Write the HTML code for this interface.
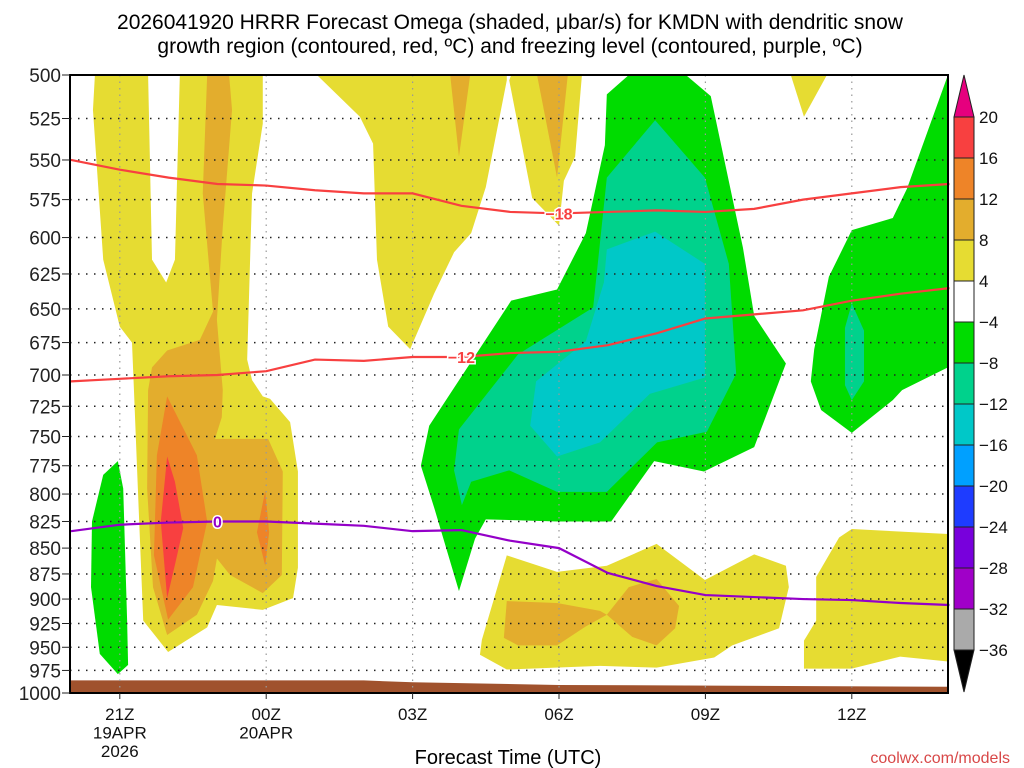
<!DOCTYPE html>
<html><head><meta charset="utf-8"><style>
body{margin:0;background:#fff;}
svg{display:block;font-family:"Liberation Sans",sans-serif;}
</style></head><body>
<svg id="chart" width="1024" height="768" xmlns="http://www.w3.org/2000/svg">
<g id="shade"></g>
<g id="ground"></g>
<g id="grid"></g>
<g id="lines"></g>
<g id="axes"></g>
<g id="cbar"></g>
<text x="510" y="29" text-anchor="middle" font-size="21">2026041920 HRRR Forecast Omega (shaded, μbar/s) for KMDN with dendritic snow</text>
<text x="510" y="53" text-anchor="middle" font-size="21">growth region (contoured, red, ºC) and freezing level (contoured, purple, ºC)</text>
<text x="508" y="764" text-anchor="middle" font-size="20">Forecast Time (UTC)</text>
<text x="1010" y="763" text-anchor="end" font-size="16" fill="#d84848">coolwx.com/models</text>
</svg>
<script>
// hours since 20Z 19 Apr; pressure hPa
const pLevels=[500,525,550,575,600,625,650,675,700,725,750,775,800,825,850,875,900,925,950,975,1000];
const xTickHours=[1,4,7,10,13,16];
const xTickLabels=[["21Z","19APR","2026"],["00Z","20APR"],["03Z"],["06Z"],["09Z"],["12Z"]];
const cbarLevels=[20,16,12,8,4,-4,-8,-12,-16,-20,-24,-28,-32,-36];
const cbarColors=["#f84040","#ee8428","#e3ad2d","#e6dc32","#ffffff","#00dc00","#00d28c","#00c8c8","#00a0ff","#1e3cff","#7800dc","#a000c8","#aaaaaa"];
const hours=[0,1,2,3,4,5,6,7,8,9,10,11,12,13,14,15,16,17,18];
const dgzTop=[550,556,561,565,566,569,571,571,579,583,584,583,582,583,581,575,571,567,565];
const dgzBottom=[705,703,701,700,697,688,689,686,686,683,682,677,668,657,654,651,644,639,635];
const freezing=[834,828,826,825,825,827,829,834,833,843,850,874,887,896,898,900,901,904,906];
const groundHours=[0,6,7,10,18];
const groundP=[986,986,988,991,993];
const shapes=[
 {v:4,c:"#e6dc32",pts:[[0.49,500],[3.93,500],[3.93,528],[3.71,571],[3.61,688],[3.71,704],[3.93,717],[4.08,719],[4.49,738],[4.65,780],[4.65,869],[4.55,899],[3.93,911],[2.99,906],[2.79,929],[1.99,955],[1.48,922],[1.37,795],[1.29,712],[1.25,675],[1.0,663],[0.66,615],[0.45,520]]},
 {v:0,c:"#ffffff",pts:[[1.58,500],[1.66,615],[1.95,631],[2.13,615],[2.23,500]]},
 {v:8,c:"#e3ad2d",pts:[[2.79,500],[3.24,500],[3.30,520],[3.11,593],[2.99,658],[3.11,712],[3.09,734],[2.95,752],[4.04,752],[4.34,780],[4.32,876],[3.93,894],[3.26,876],[2.99,860],[2.91,882],[2.58,916],[1.97,937],[1.68,888],[1.56,795],[1.58,712],[1.66,694],[1.97,681],[2.64,673],[2.91,652],[2.70,571]]},
 {v:12,c:"#ee8428",pts:[[1.97,717],[1.76,766],[1.70,857],[1.99,921],[2.50,888],[2.79,825],[2.58,766]]},
 {v:12,c:"#ee8428",pts:[[3.98,797],[3.81,835],[3.98,867],[4.06,835]]},
 {v:16,c:"#f84040",pts:[[1.97,767],[1.84,825],[1.97,899],[2.13,866],[2.30,831],[2.13,789]]},
 {v:-4,c:"#00dc00",pts:[[0.96,771],[0.66,783],[0.43,825],[0.41,888],[0.59,957],[0.96,979],[1.17,969],[1.15,922],[1.07,795]]},
 {v:4,c:"#e6dc32",pts:[[5.04,500],[8.93,500],[8.93,503],[8.50,567],[8.20,597],[7.85,610],[7.44,639],[6.95,680],[6.50,663],[6.27,615],[6.19,540],[5.92,524]]},
 {v:4,c:"#e6dc32",pts:[[9.02,500],[10.47,500],[10.33,548],[10.10,563],[10.0,592],[9.45,574],[8.98,503]]},
 {v:8,c:"#e3ad2d",pts:[[7.77,500],[8.18,500],[7.95,548]]},
 {v:8,c:"#e3ad2d",pts:[[9.55,500],[10.18,500],[9.96,561]]},
 {v:-4,c:"#00dc00",pts:[[11.43,500],[12.6,500],[13.11,512],[13.77,607],[14.0,655],[14.65,691],[14.0,759],[12.97,780],[11.95,771],[11.07,825],[9.96,825],[8.50,823],[8.28,841],[7.95,892],[7.44,812],[7.17,775],[7.34,741],[9.02,644],[9.96,636],[10.55,597],[10.94,541],[10.98,511]]},
 {v:-8,c:"#00d28c",pts:[[11.97,526],[12.99,561],[13.48,618],[13.63,699],[13.03,746],[12.01,755],[10.98,798],[9.96,798],[8.98,779],[8.20,789],[8.01,810],[7.85,779],[7.95,744],[9.16,684],[10.70,649],[10.98,561]]},
 {v:-12,c:"#00c8c8",pts:[[11.97,596],[12.99,618],[12.99,702],[11.86,715],[10.84,755],[9.96,767],[9.41,741],[9.53,705],[10.55,674],[10.92,631],[10.98,608]]},
 {v:-4,c:"#00dc00",pts:[[17.97,500],[18.1,500],[18.1,694],[17.97,694],[17.03,712],[16.84,720],[16.0,747],[15.37,728],[15.16,705],[15.23,680],[15.53,627],[16.0,595],[16.84,587],[17.13,568]]},
 {v:-8,c:"#00d28c",pts:[[16.0,646],[16.25,666],[16.25,705],[16.0,720],[15.86,708],[15.86,664]]},
 {v:4,c:"#e6dc32",pts:[[14.75,500],[15.49,500],[15.02,524]]},
 {v:4,c:"#e6dc32",pts:[[8.93,857],[9.96,873],[10.98,867],[12.0,846],[12.99,881],[14.0,856],[14.65,867],[14.71,888],[14.51,930],[13.55,948],[13.18,961],[12.0,972],[10.84,970],[8.93,974],[8.38,958],[8.42,942]]},
 {v:8,c:"#e3ad2d",pts:[[8.93,902],[9.96,904],[10.84,912],[10.98,916],[11.43,888],[12.0,880],[12.46,907],[12.38,930],[12.0,948],[11.5,939],[10.98,916],[10.55,928],[9.96,948],[9.16,948],[8.87,940]]},
 {v:4,c:"#e6dc32",pts:[[15.74,840],[16.0,832],[18.1,837],[18.1,966],[16.99,960],[16.0,973],[15.02,973],[15.02,943],[15.27,922],[15.27,878]]}
];
const L=70,R=948,T=75,B=693;
const X=h=>71+48.8*h;
const Y=p=>75+618*Math.log2(p/500);
const NS="http://www.w3.org/2000/svg";
function mk(tag,attrs,parent){const e=document.createElementNS(NS,tag);for(const k in attrs)e.setAttribute(k,attrs[k]);parent.appendChild(e);return e;}
const cl=v=>Math.max(L,Math.min(R,v));
const shade=document.getElementById('shade');
const clip=mk('clipPath',{id:'pc'},document.getElementById('chart'));
mk('rect',{x:L,y:T,width:R-L,height:B-T},clip);
shade.setAttribute('clip-path','url(#pc)');
shapes.forEach((s,i)=>{
 const pg=mk('polygon',{points:s.pts.map(q=>X(q[0])+','+Y(q[1])).join(' '),fill:s.c},shade);
 
 
});
// ground
const gr=document.getElementById('ground');
let gp=groundHours.map((h,i)=>cl(X(h))+','+Y(groundP[i]));
gp.push(R+','+B,L+','+B);
const gpoly=mk('polygon',{points:gp.join(' '),fill:'#a0522d'},gr);


// grid
const grid=document.getElementById('grid');
pLevels.forEach(p=>{
 const ln=mk('line',{x1:L,x2:R,y1:Y(p),y2:Y(p),stroke:'#222','stroke-width':1.5,'stroke-dasharray':'1.5 6.5'},grid);
 
 
});
xTickHours.forEach(h=>{
 const ln=mk('line',{x1:X(h),x2:X(h),y1:T,y2:B,stroke:'#999','stroke-width':1.2,'stroke-dasharray':'1.5 5'},grid);
 
 
});
// lines
const lg=document.getElementById('lines');
function line(arr,col,name){
 const pl=mk('polyline',{points:hours.map((h,i)=>X(h)+','+Y(arr[i])).join(' '),fill:'none',stroke:col,'stroke-width':2.2},lg);
 
 
}
line(dgzTop,'#f84040','dgz-minus18-line');
line(dgzBottom,'#f84040','dgz-minus12-line');
line(freezing,'#9400c8','freezing-level-line');
function lab(txt,h,arr,col,name){
 const x=X(h),y=Y(arr[Math.round(h)]);
 const r=mk('rect',{x:x-14,y:y-8,width:28,height:16,fill:'none'},lg);
 const t=mk('text',{x:x,y:y+6,'text-anchor':'middle','font-size':16,'font-weight':'bold',fill:col,stroke:'#fff','stroke-width':3,'paint-order':'stroke'},lg);
 t.textContent=txt;
 
 
}
lab('−18',10,dgzTop,'#f84040','label-minus18');
lab('−12',8,dgzBottom,'#f84040','label-minus12');
lab('0',3,freezing,'#9400c8','label-freezing-0');
// axes
const ax=document.getElementById('axes');
mk('rect',{x:L,y:T,width:R-L,height:B-T,fill:'none',stroke:'#000','stroke-width':2},ax);
pLevels.forEach(p=>{
 const t=mk('text',{x:61,y:Y(p)+7,'text-anchor':'end','font-size':19,fill:'#222'},ax);
 t.textContent=p;
 
 
 mk('line',{x1:62,x2:L,y1:Y(p),y2:Y(p),stroke:'#222','stroke-width':1},ax);
});
xTickHours.forEach((h,i)=>{
 mk('line',{x1:X(h),x2:X(h),y1:B,y2:B+6,stroke:'#222','stroke-width':1},ax);
 xTickLabels[i].forEach((s,j)=>{
  const t=mk('text',{x:X(h),y:720+j*18.5,'text-anchor':'middle','font-size':17,fill:'#111'},ax);
  t.textContent=s;
  
  
 });
});
// colorbar
const cb=document.getElementById('cbar');
const cx=954,cw=20,ct=117,ch=41;
const tt=mk('polygon',{points:`${cx},${ct} ${cx+cw},${ct} ${cx+cw/2},${ct-42}`,fill:'#e6007e',stroke:'#222','stroke-width':1},cb);


cbarColors.forEach((c,i)=>{
 const r=mk('rect',{x:cx,y:ct+i*ch,width:cw,height:ch,fill:c,stroke:'#222','stroke-width':1},cb);
 
 
});
const bt=ct+cbarColors.length*ch;
const tb=mk('polygon',{points:`${cx},${bt} ${cx+cw},${bt} ${cx+cw/2},${bt+42}`,fill:'#000',stroke:'#222','stroke-width':1},cb);


cbarLevels.forEach((v,i)=>{
 const t=mk('text',{x:979,y:ct+i*ch+6,'font-size':17,fill:'#111'},cb);
 t.textContent=v<0?'−'+(-v):v;
 
 
});
</script>
</body></html>
